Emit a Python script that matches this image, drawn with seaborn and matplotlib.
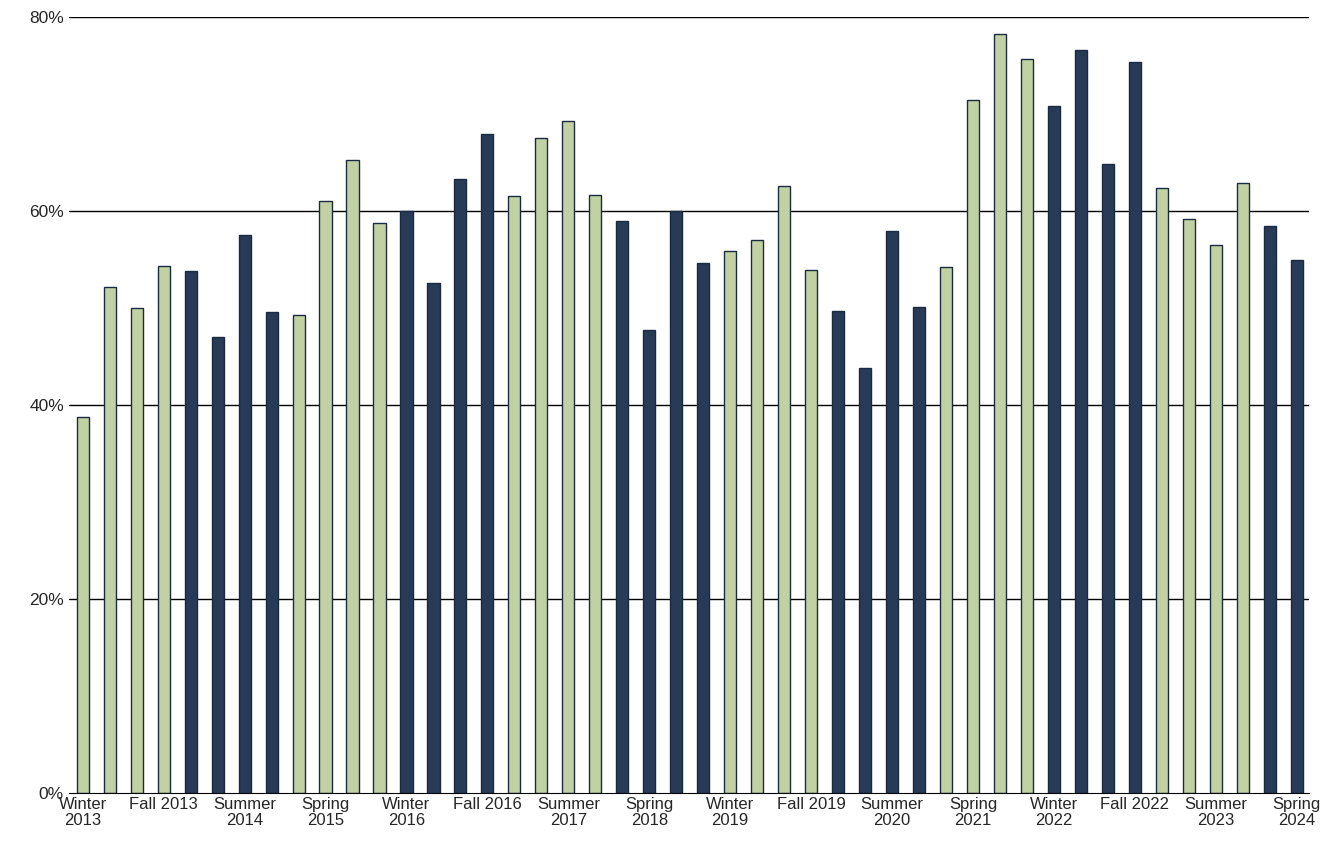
import seaborn as sns
import matplotlib.pyplot as plt
import pandas as pd

seasons = ["Winter", "Spring", "Summer", "Fall"]
periods = [f"{seasons[i % 4]} {2013 + i // 4}" for i in range(46)]
values = [38.8, 52.2, 50.0, 54.3, 53.8, 47.0, 57.5, 49.6,
          49.3, 61.0, 65.2, 58.7, 60.0, 52.6, 63.3, 67.9,
          61.5, 67.5, 69.3, 61.6, 59.0, 47.7, 60.0, 54.6,
          55.9, 57.0, 62.6, 53.9, 49.7, 43.8, 57.9, 50.1,
          54.2, 71.4, 78.2, 75.7, 70.8, 76.6, 64.8, 75.3,
          62.4, 59.2, 56.5, 62.9, 58.4, 54.9]
groups = ["a" if (i // 4) % 2 == 0 else "b" for i in range(46)]

df = pd.DataFrame({"period": periods, "value": values, "group": groups})

sns.set_style("white")
plt.rcParams['font.family'] = ['Arial', 'Liberation Sans', 'DejaVu Sans']
fig, ax = plt.subplots(figsize=(13.22, 8.41), dpi=100)
fig.subplots_adjust(left=0.052, right=0.99, top=0.98, bottom=0.057)

for y in [20, 40, 60, 80]:
    ax.axhline(y, color="black", lw=1, zorder=0)

sns.barplot(data=df, x="period", y="value", hue="group",
            palette={"a": "#c4d89c", "b": "#1f3a5f"}, dodge=False,
            width=0.45, edgecolor="#1a2a40", linewidth=1, legend=False, ax=ax)

ticks = list(range(0, 46, 3))
ax.set_xticks(ticks)
ax.set_xticklabels([periods[i].replace(" ", "\n") if periods[i].split()[0] != "Fall" else periods[i]
                    for i in ticks], fontsize=12, linespacing=1.1)
ax.tick_params(axis="x", length=0, pad=3)
ax.set_ylim(0, 80)
ax.set_xlim(-0.52, 45.45)
ax.set_yticks([0, 20, 40, 60, 80])
ax.set_yticklabels([f"{v}%" for v in [0, 20, 40, 60, 80]], fontsize=12.5)
ax.tick_params(axis="y", length=0)
ax.set_xlabel("")
ax.set_ylabel("")
for s in ["top", "right", "left"]:
    ax.spines[s].set_visible(False)
ax.spines["bottom"].set_color("black")

fig.savefig("out.png", dpi=100)
